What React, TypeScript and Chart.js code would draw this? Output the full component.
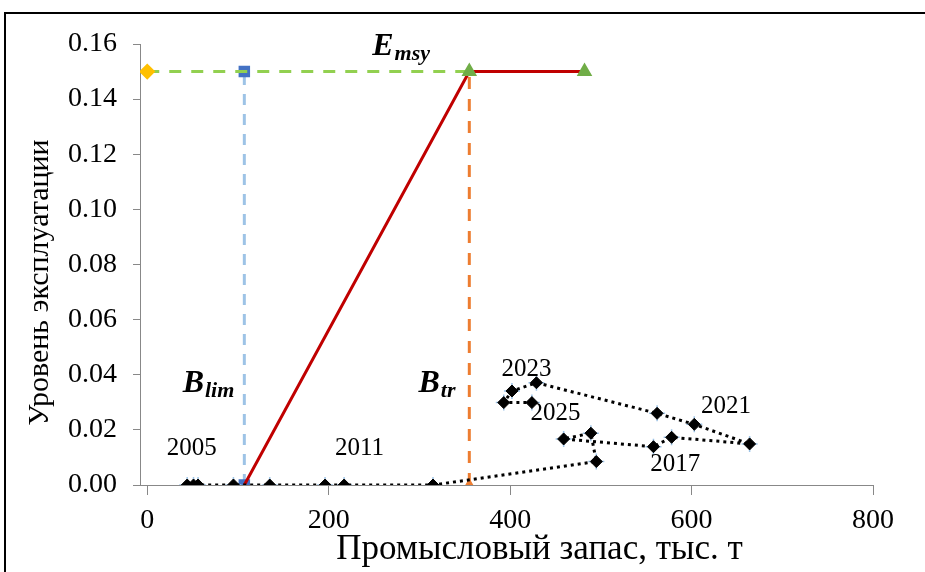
import React, { useEffect, useRef } from 'react';
import { Chart, registerables } from 'chart.js';

Chart.register(...registerables);

// ---- Data ----
const X_TICKS = [0, 200, 400, 600, 800];
const Y_TICKS = [0, 0.02, 0.04, 0.06, 0.08, 0.1, 0.12, 0.14, 0.16];

// Observed stock / exploitation trajectory (chronological)
const stockX = [44, 51, 56, 95, 135, 196, 217, 315, 495, 489, 459, 558, 578, 664, 603, 562, 429, 402, 393, 424];
const exploitY = [0, 0, 0, 0, 0, 0, 0, 0, 0.0085, 0.0188, 0.0167, 0.0139, 0.0173, 0.0149, 0.022, 0.026, 0.0371, 0.0341, 0.0299, 0.0299];

// Reference points
const B_LIM = 107;
const B_TR = 355;
const B_END = 482;
const E_MSY = 0.15;

const emsyX = [0, B_TR];
const emsyY = [E_MSY, E_MSY];
const blimX = [B_LIM, B_LIM];
const blimY = [0, E_MSY];
const btrX = [B_TR, B_TR];
const btrY = [0, E_MSY];
const hcrX = [B_LIM, B_TR, B_END];
const hcrY = [0, E_MSY, E_MSY];

// Year annotations (data coordinates)
const yearLabels = ['2005', '2011', '2017', '2021', '2023', '2025'];
const yearLabelX = [49, 234, 582, 638, 418, 450];
const yearLabelY = [0.0131, 0.0131, 0.0073, 0.0284, 0.0421, 0.0258];

// Reference-point labels
const refMain = ['E', 'B', 'B'];
const refSub = ['msy', 'lim', 'tr'];
const refX = [248, 39, 299];
const refY = [0.156, 0.0337, 0.0337];

const X_TITLE = 'Промысловый запас, тыс. т';
const Y_TITLE = 'Уровень эксплуатации';

const SERIF = '"Liberation Serif", "Times New Roman", serif';

const zip = (xs: number[], ys: number[]) => xs.map((x, i) => ({ x, y: ys[i] }));

const decorPlugin = {
  id: 'decor',
  beforeDraw(chart: any) {
    const ctx = chart.ctx;
    ctx.save();
    ctx.fillStyle = '#ffffff';
    ctx.fillRect(0, 0, chart.width, chart.height);
    ctx.strokeStyle = '#000000';
    ctx.lineWidth = 2;
    ctx.beginPath();
    ctx.moveTo(5, chart.height);
    ctx.lineTo(5, 13);
    ctx.lineTo(chart.width, 13);
    ctx.stroke();
    ctx.restore();
  },
  afterDatasetsDraw(chart: any) {
    const ctx = chart.ctx;
    const xs = chart.scales.x;
    const ys = chart.scales.y;
    ctx.save();
    ctx.fillStyle = '#000000';
    // year labels
    ctx.font = `25px ${SERIF}`;
    ctx.textAlign = 'center';
    ctx.textBaseline = 'middle';
    yearLabels.forEach((t, i) => {
      ctx.fillText(t, xs.getPixelForValue(yearLabelX[i]), ys.getPixelForValue(yearLabelY[i]));
    });
    // reference labels
    ctx.textAlign = 'left';
    ctx.textBaseline = 'alphabetic';
    refMain.forEach((t, i) => {
      const px = xs.getPixelForValue(refX[i]);
      const py = ys.getPixelForValue(refY[i]);
      ctx.font = `italic bold 32px ${SERIF}`;
      ctx.fillText(t, px, py);
      const w = ctx.measureText(t).width;
      ctx.font = `italic bold 22px ${SERIF}`;
      ctx.fillText(refSub[i], px + w + 1, py + 5);
    });
    ctx.restore();
  },
  afterDraw(chart: any) {
    const ctx = chart.ctx;
    const area = chart.chartArea;
    ctx.save();
    ctx.fillStyle = '#000000';
    ctx.textAlign = 'center';
    ctx.textBaseline = 'middle';
    ctx.font = `35px ${SERIF}`;
    ctx.fillText(X_TITLE, (area.left + area.right) / 2 + 33, 550);
    ctx.font = `30px ${SERIF}`;
    ctx.translate(40, (area.top + area.bottom) / 2 + 18);
    ctx.rotate(-Math.PI / 2);
    ctx.fillText(Y_TITLE, 0, 0);
    ctx.restore();
  },
};

export default function App() {
  const ref = useRef<HTMLCanvasElement | null>(null);

  useEffect(() => {
    if (!ref.current) return;
    const chart = new Chart(ref.current, {
      type: 'scatter',
      data: {
        datasets: [
          {
            label: 'traj',
            data: zip(stockX, exploitY),
            showLine: true,
            borderColor: '#000000',
            backgroundColor: '#000000',
            borderWidth: 3,
            borderDash: [3, 4],
            pointStyle: 'rectRot',
            pointRadius: 6,
            pointBorderWidth: 1,
          },
          {
            label: 'trajCross',
            data: zip(stockX, exploitY),
            showLine: false,
            borderColor: '#9dc3e6',
            backgroundColor: '#9dc3e6',
            pointStyle: 'cross',
            pointRadius: 8,
            pointBorderWidth: 1.5,
          },
          {
            label: 'hcr',
            data: zip(hcrX, hcrY),
            showLine: true,
            borderColor: '#c00000',
            borderWidth: 3,
            pointStyle: 'triangle',
            pointRadius: [0, 6, 6],
            pointBackgroundColor: '#70ad47',
            pointBorderColor: '#70ad47',
          },
          {
            label: 'emsy',
            data: zip(emsyX, emsyY),
            showLine: true,
            borderColor: '#92d050',
            borderWidth: 3,
            borderDash: [12, 10],
            pointStyle: 'rectRot',
            pointRadius: [6, 0],
            pointBackgroundColor: '#ffc000',
            pointBorderColor: '#ffc000',
          },
          {
            label: 'btr',
            data: zip(btrX, btrY),
            showLine: true,
            borderColor: '#ed7d31',
            borderWidth: 3,
            borderDash: [12, 10],
            pointStyle: 'triangle',
            pointRadius: 4,
            pointBackgroundColor: '#ed7d31',
            pointBorderColor: '#ed7d31',
          },
          {
            label: 'blim',
            data: zip(blimX, blimY),
            showLine: true,
            borderColor: '#9dc3e6',
            borderWidth: 3,
            borderDash: [11, 9],
            pointStyle: 'rect',
            pointRadius: 6,
            pointBackgroundColor: '#4472c4',
            pointBorderColor: '#4472c4',
          },
        ],
      },
      options: {
        animation: false,
        responsive: false,
        devicePixelRatio: 1,
        layout: { padding: { top: 44, right: 52, left: 0, bottom: 0 } },
        plugins: {
          legend: { display: false },
          tooltip: { enabled: false },
        },
        scales: {
          x: {
            type: 'linear',
            min: -8,
            max: 800,
            afterBuildTicks: (s: any) => {
              s.ticks = X_TICKS.map((v) => ({ value: v }));
            },
            afterFit: (s: any) => {
              s.height = 87;
            },
            grid: { drawOnChartArea: false, drawTicks: true, tickLength: 10, color: '#888888' },
            border: { display: true, color: '#888888', width: 1 },
            ticks: {
              color: '#000000',
              font: { family: SERIF, size: 28 },
              padding: 9,
              maxRotation: 0,
              callback: (v: any) => String(v),
            },
          },
          y: {
            type: 'linear',
            min: 0,
            max: 0.16,
            afterBuildTicks: (s: any) => {
              s.ticks = Y_TICKS.map((v) => ({ value: v }));
            },
            afterFit: (s: any) => {
              s.width = 140;
            },
            grid: { drawOnChartArea: false, drawTicks: true, tickLength: 7, color: '#888888' },
            border: { display: true, color: '#888888', width: 1 },
            ticks: {
              color: '#000000',
              font: { family: SERIF, size: 28 },
              padding: 16,
              callback: (v: any) => Number(v).toFixed(2),
            },
          },
        },
      },
      plugins: [decorPlugin],
    } as any);
    return () => chart.destroy();
  }, []);

  return (
    <div style={{ position: 'absolute', left: 0, top: 0, width: 925, height: 572 }}>
      <canvas ref={ref} width={925} height={572} style={{ width: 925, height: 572 }} />
    </div>
  );
}
